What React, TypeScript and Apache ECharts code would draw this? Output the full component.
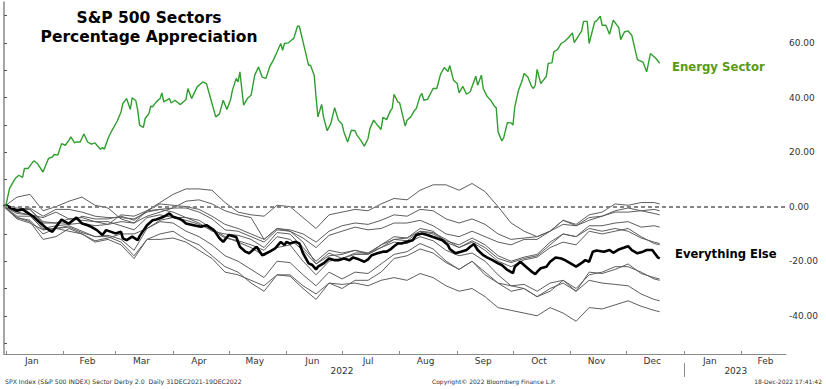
import React, { useEffect, useRef } from "react";
import * as echarts from "echarts";

const BASE = Date.UTC(2021, 11, 31);
const DAY = 86400000;
const AXIS_END_DAY = 421;

// weekly (Friday) sampling days since 31-Dec-2021 for the sector lines
const weekDays = [0, 7, 14, 21, 28, 35, 42, 49, 56, 63, 70, 77, 84, 91, 98, 105, 112, 119, 126, 133, 140, 147, 154, 161, 168, 175, 182, 189, 196, 203, 210, 217, 224, 231, 238, 245, 252, 259, 266, 273, 280, 287, 294, 301, 308, 315, 322, 329, 336, 343, 350, 353];

const financials = [0, 3.5, 4.5, -1.5, 0, 2, 3.5, 0.5, -0.5, -4.5, -6, -1.5, -1, -2, -4, -6, -9, -10, -10.5, -12, -15, -9.5, -10, -15, -20, -16, -17, -16, -17.5, -14, -12, -12.5, -9, -10, -12.5, -14, -11.5, -14, -18, -20, -18.5, -17.5, -13, -10, -11, -8, -9, -8, -9, -11.5, -13, -13.5];
const utilities = [0, -2.5, -3, -4, -2, -4.5, -5, -5.5, -6.5, -3, -3.5, -1.5, 1.5, 4.5, 6.5, 6.5, 6, 1.5, -2, -3, -3.5, 0.5, 0, -4, -8, -3, -2, -1, -1.5, 1, 3, 2.5, 6, 8, 8, 6, 8.5, 5.5, 0, -6, -9, -11, -9, -5, -6.5, -3, -2, 1, 0.5, 1.5, 1.5, 1];
const staples = [0, -1, -0.5, -3.5, -1, -1, -2, -3.5, -4, -4, -4.5, -2, -1, -0.5, 2, 2.5, 1, -1.5, -3, -4, -12, -8, -8.5, -10, -13, -9, -7, -6, -6.5, -5, -3, -3.5, -1, -1.5, -4.5, -6, -4.5, -6.5, -10, -12, -11.5, -11, -9, -6.5, -7, -5, -3.5, -1.5, -0.5, -1.5, -1, -1.5];
const healthCare = [0, -3.5, -3.5, -8, -7, -6.5, -6, -7, -6.5, -5.5, -6, -3.5, -2, -0.5, -0.5, -2, -4.5, -8.5, -9, -11, -13, -8.5, -9, -11.5, -15, -10.5, -9, -7.5, -8.5, -8, -6, -6, -5, -7, -10, -11, -9, -11, -13, -14, -12, -12, -9, -5, -7, -4, -3.5, -2, -2, -1.5, -2.5, -3];
const industrials = [0, -0.5, -1, -5.5, -6, -4.5, -4, -5.5, -5.5, -7, -8.5, -4, -3, -4, -5, -6.5, -8.5, -11.5, -12.5, -14, -16, -11, -12, -16, -21, -17, -19, -17.5, -17.5, -15, -12, -11.5, -9, -9.5, -12, -15, -12.5, -15, -19, -20.5, -19, -18, -14, -10, -11, -7, -7, -6, -5.5, -7.5, -7, -7.5];
const materials = [0, -1.5, -1, -6, -6, -6, -3.5, -4.5, -4.5, -3.5, -5, -1.5, 1, 0.5, 0, -1, -3.5, -6.5, -8, -10, -12, -8, -9, -13, -21, -18, -17.5, -16, -17, -14, -11, -11.5, -8, -9, -13, -15, -13, -16, -20, -22, -19.5, -18.5, -15, -13, -14, -9, -10, -9, -8, -11, -13.5, -14];
const realEstate = [0, -4.5, -6, -8.5, -8, -9, -10, -12.5, -11.5, -10, -10, -8, -5, -4, -4, -5, -8, -11, -13, -15, -18, -15, -14, -20, -25, -20, -19, -17, -17, -15, -13, -13.5, -11, -12.5, -16, -18, -17, -20, -25, -29, -30, -33, -31, -27, -30, -25, -24, -22, -22, -24, -26.5, -27];
const infoTech = [0, -4, -5, -10, -8, -7, -9, -11, -10.5, -12, -16, -8, -5.5, -6, -9, -11, -14, -18, -20, -23, -26, -20, -20.5, -25, -29, -24, -26.5, -24, -24.5, -21, -17.5, -16.5, -13.5, -15.5, -20, -23, -20, -25, -28, -31, -30, -33, -30, -28, -31, -24, -24.5, -23, -21, -24.5, -26, -26.5];
const consDisc = [0, -4, -5.5, -12, -11, -8, -10, -13, -12, -14, -19, -12, -10, -9, -12, -14, -18, -22, -24, -28, -31, -25, -25.5, -30, -34, -28, -30, -27, -27, -24, -19, -18, -15.5, -17, -20.5, -23, -20, -24, -28, -29, -28.5, -31, -28, -27, -31, -27, -28, -28.5, -29, -32, -34, -34.5];
const commServices = [0, -2, -3, -8.5, -8, -7.5, -9.5, -11, -11, -13, -18, -12, -12, -11.5, -13, -16, -19, -24, -25, -27, -29, -25, -25, -29, -32, -28, -28.5, -28, -29, -27, -26, -27, -24.5, -26, -29, -31, -30, -33, -37, -38, -39, -40, -37, -39, -42, -37, -37.5, -36, -34.5, -36.5, -38, -38.5];

// [days since 31-Dec-2021, % change]
const everythingElse = [[0,0],[1,0.5],[7,-1.5],[10,-1.0],[12,-1.9],[16,-3.7],[19,-5.6],[23,-8.0],[26,-9.2],[28,-7.4],[31,-4.7],[33,-5.6],[35,-6.2],[36,-5.6],[39,-4.0],[42,-6.2],[45,-6.8],[47,-7.4],[50,-8.6],[53,-10.4],[55,-8.6],[60,-9.8],[63,-9.2],[64,-11.6],[66,-12.3],[69,-11.0],[72,-12.3],[73,-10.8],[77,-6.8],[80,-5.0],[82,-4.7],[86,-3.7],[89,-2.5],[91,-3.7],[94,-4.3],[96,-5.0],[98,-6.2],[102,-6.8],[106,-7.4],[109,-6.8],[113,-8.6],[116,-11.6],[118,-12.9],[121,-10.4],[125,-11.1],[127,-14.7],[130,-16.5],[132,-17.1],[134,-15.9],[136,-14.7],[139,-17.8],[143,-16.5],[146,-15.3],[149,-12.9],[151,-14.1],[152,-12.9],[154,-13.5],[157,-12.9],[159,-13.5],[161,-17.1],[164,-20.8],[166,-21.4],[168,-23.0],[169,-22.0],[172,-20.8],[175,-19.0],[178,-19.6],[180,-19.6],[183,-19.0],[186,-19.6],[188,-18.6],[191,-19.3],[194,-20.2],[196,-19.3],[198,-17.8],[201,-17.1],[204,-16.5],[206,-16.5],[208,-15.7],[210,-14.5],[212,-13.5],[214,-13.5],[217,-12.9],[220,-12.3],[222,-10.4],[225,-9.8],[228,-10.4],[231,-11.1],[233,-11.6],[236,-12.3],[239,-14.1],[240,-15.5],[243,-17.1],[246,-16.5],[249,-15.9],[251,-14.7],[253,-13.7],[255,-15.9],[258,-17.8],[260,-18.6],[263,-19.6],[266,-20.8],[268,-21.4],[271,-23.2],[274,-24.4],[275,-22.0],[278,-20.2],[281,-22.0],[284,-23.8],[286,-24.7],[288,-23.2],[289,-22.6],[292,-22.0],[294,-20.2],[297,-18.6],[300,-19.0],[302,-19.6],[305,-20.8],[308,-22.0],[311,-20.6],[313,-19.6],[315,-20.2],[317,-16.5],[319,-16.1],[323,-16.5],[326,-15.9],[328,-16.9],[331,-15.7],[334,-15.0],[336,-14.5],[338,-15.9],[341,-17.1],[344,-16.5],[346,-15.9],[349,-15.9],[352,-18.6],[353,-19.0]];

const energySector = [[0,0],[1,0.5],[3,6.7],[6,10.3],[8,11.5],[10,10.7],[11,14],[13,14],[16,16.8],[18,15.8],[21,12.7],[24,17.7],[26,18.2],[27,19.1],[29,18.9],[31,23.1],[33,22.5],[35,24.4],[36,25.6],[38,23.4],[39,23.7],[41,23.7],[43,26.6],[45,23.7],[47,22.9],[49,23.4],[50,22.5],[52,21],[53,21.7],[54,21],[56,25],[58,27.8],[61,31.4],[63,34.7],[64,37.8],[66,39.6],[68,35.6],[69,39.9],[71,38.8],[72,35.3],[73,29.9],[75,29],[76,32.3],[78,34.1],[79,36.8],[80,36.6],[82,38.4],[84,39.6],[85,41.7],[86,38.4],[89,39.6],[90,38],[92,39],[95,37.4],[98,39.3],[99,43.3],[101,39.6],[104,43.9],[107,45.7],[109,45.1],[111,40.2],[114,32.9],[116,34],[118,39],[120,35.6],[122,39.3],[123,42.7],[125,47],[126,45.7],[127,49.4],[129,37.2],[131,39.6],[133,40.8],[135,48.2],[137,51.2],[139,47.5],[141,47],[143,51.2],[145,53.7],[147,56.7],[149,59.8],[150,57.3],[151,59.8],[153,60],[155,61.2],[156,61.6],[158,66.1],[159,66.1],[161,60.4],[164,51.8],[165,51.8],[167,48.2],[168,40.2],[169,32.9],[171,37.5],[172,32.9],[174,27.8],[176,30.5],[178,36.3],[180,31.7],[182,30.2],[183,27.4],[185,23.7],[187,28],[189,27.8],[190,26.2],[192,24.4],[194,22.2],[196,25],[197,28.6],[199,31.7],[201,29.9],[203,28.3],[204,32.7],[206,31.9],[208,35.1],[209,36],[210,41.2],[212,38.4],[213,38],[216,29.5],[217,31.7],[219,32.9],[221,35.3],[222,36],[224,40.5],[225,41.5],[226,39],[228,39.3],[231,43.3],[233,43.3],[235,48.5],[237,51],[239,49.5],[240,51.7],[242,46.3],[244,45.1],[245,41.7],[247,44.1],[249,41.2],[251,42.1],[254,47.8],[255,44.5],[257,48.2],[258,43.3],[260,40.5],[262,39],[264,36.8],[265,36.2],[266,27.4],[268,24.1],[269,25.2],[271,30.8],[273,30.7],[274,29.9],[275,36.6],[277,42.7],[279,46.3],[280,48.8],[282,47.5],[284,44.1],[285,43.3],[286,44.5],[287,50.3],[289,45.1],[292,47.8],[293,52.5],[295,52.7],[296,56.7],[298,57.6],[300,59.8],[302,60.7],[304,62],[306,63.7],[307,60.1],[311,64.4],[312,67.9],[314,67.9],[315,59.8],[318,67.7],[319,68.1],[321,69.8],[322,66.5],[324,66.5],[326,63.2],[328,68.3],[330,66.5],[331,65.6],[332,61.2],[334,64],[336,64.4],[338,62.8],[341,53.9],[344,53],[346,49.4],[348,56.1],[351,54.3],[353,52.5]];

const monthNames = ["Jan", "Feb", "Mar", "Apr", "May", "Jun", "Jul", "Aug", "Sep", "Oct", "Nov", "Dec", "Jan", "Feb"];
const yLabelValues = [-40, -20, 0, 20, 40, 60];
const yTickValues = [-50, -40, -30, -20, -10, 0, 10, 20, 30, 40, 50, 60, 70];
const yearLabels = ["2022", "2023"];

const sectorLines = [utilities, staples, healthCare, industrials, financials, materials, realEstate, infoTech, consDisc, commServices];

const FONT = '"DejaVu Sans", Verdana, sans-serif';

const dayOf = (y: number, m: number, d: number) => (Date.UTC(y, m, d) - BASE) / DAY;

export default function App() {
  const ref = useRef<HTMLDivElement>(null);
  useEffect(() => {
    document.body.style.margin = "0";
    const chart = echarts.init(ref.current!, null, { renderer: "svg" });
    const monthStarts: number[] = [];
    const monthMids: number[] = [];
    const midToName: Record<string, string> = {};
    for (let i = 0; i < monthNames.length; i++) {
      const s = dayOf(2022, i, 1);
      const e = dayOf(2022, i + 1, 1);
      const mid = Math.round(s + (e - s) / 2 - 1.5);
      monthStarts.push(s);
      monthMids.push(mid);
      midToName[String(mid)] = monthNames[i];
    }
    const yearMids = [dayOf(2022, 6, 1), dayOf(2023, 0, 29)];
    const yearSep = [dayOf(2023, 0, 1)];
    const greySeries = sectorLines.map((arr) => ({
      type: "line",
      data: weekDays.map((d, i) => [d, arr[i]]),
      showSymbol: false,
      symbol: "none",
      silent: true,
      z: 2,
      lineStyle: { color: "#5e5e5e", width: 1 },
    }));
    chart.setOption({
      animation: false,
      backgroundColor: "#ffffff",
      grid: { left: 4, right: 40, top: 2, bottom: 35 },
      xAxis: [
        {
          type: "value",
          min: 0,
          max: AXIS_END_DAY,
          position: "bottom",
          axisLine: { show: true, onZero: false, lineStyle: { color: "#8a8a8a", width: 1.2 } },
          axisTick: { show: true, inside: true, length: 3, customValues: monthStarts, lineStyle: { color: "#8a8a8a" } },
          axisLabel: {
            customValues: monthMids,
            formatter: (v: number) => midToName[String(v)] || "",
            margin: 2,
            fontSize: 9,
            fontFamily: FONT,
            color: "#333",
            showMinLabel: true,
            showMaxLabel: true,
          },
          splitLine: { show: false },
        },
        {
          type: "value",
          min: 0,
          max: AXIS_END_DAY,
          position: "bottom",
          offset: 9,
          axisLine: { show: false, onZero: false },
          axisTick: { show: true, length: 14, customValues: yearSep, lineStyle: { color: "#8a8a8a" } },
          axisLabel: {
            customValues: yearMids,
            formatter: (v: number) => (v < 300 ? yearLabels[0] : yearLabels[1]),
            margin: 3,
            fontSize: 9,
            fontFamily: FONT,
            color: "#333",
          },
          splitLine: { show: false },
        },
      ],
      yAxis: {
        type: "value",
        position: "right",
        min: -54,
        max: 75,
        axisLine: { show: true, lineStyle: { color: "#8a8a8a", width: 1.5 } },
        axisTick: { show: true, length: 3, customValues: yTickValues, lineStyle: { color: "#555" } },
        axisLabel: {
          customValues: yLabelValues,
          formatter: (v: number) => v.toFixed(2),
          margin: 3,
          fontSize: 9,
          fontFamily: FONT,
          color: "#333",
        },
        splitLine: { show: false },
      },
      series: [
        ...greySeries,
        {
          type: "line",
          data: everythingElse,
          showSymbol: false,
          symbol: "none",
          silent: true,
          z: 3,
          lineStyle: { color: "#000", width: 2.6 },
        },
        {
          type: "line",
          data: energySector,
          showSymbol: false,
          symbol: "none",
          silent: true,
          z: 4,
          lineStyle: { color: "#2f9e2f", width: 1.4 },
          markLine: {
            silent: true,
            symbol: "none",
            label: { show: false },
            lineStyle: { type: [4, 3], color: "#858585", width: 2 },
            data: [{ yAxis: 0 }],
          },
        },
      ],
      graphic: [
        {
          type: "text",
          x: 149,
          y: 8,
          style: {
            text: "S&P 500 Sectors\nPercentage Appreciation",
            align: "center",
            verticalAlign: "top",
            font: `bold 15.5px ${FONT}`,
            lineHeight: 19,
            fill: "#000",
          },
        },
        {
          type: "text",
          x: 672,
          y: 67,
          style: { text: "Energy Sector", verticalAlign: "middle", font: `bold 11.7px ${FONT}`, fill: "#5a9a12" },
        },
        {
          type: "text",
          x: 675,
          y: 254,
          style: { text: "Everything Else", verticalAlign: "middle", font: `bold 11.6px ${FONT}`, fill: "#000" },
        },
        {
          type: "text",
          x: 5,
          y: 381,
          style: { text: "SPX Index (S&P 500 INDEX) Sector Derby 2.0  Daily 31DEC2021-19DEC2022", verticalAlign: "middle", font: `6.2px ${FONT}`, fill: "#333" },
        },
        {
          type: "text",
          x: 432,
          y: 381,
          style: { text: "Copyright\u00a9 2022 Bloomberg Finance L.P.", verticalAlign: "middle", font: `6px ${FONT}`, fill: "#333" },
        },
        {
          type: "text",
          x: 822,
          y: 381,
          style: { text: "18-Dec-2022 17:41:42", align: "right", verticalAlign: "middle", font: `6px ${FONT}`, fill: "#333" },
        },
      ],
    });
    return () => chart.dispose();
  }, []);
  return <div ref={ref} style={{ position: "fixed", left: 0, top: 0, width: 826, height: 389, background: "#fff" }} />;
}
